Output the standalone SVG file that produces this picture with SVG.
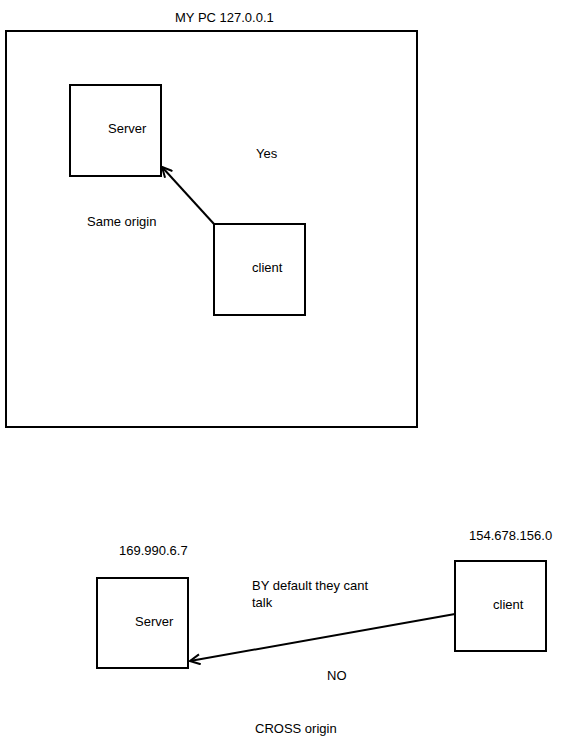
<svg xmlns="http://www.w3.org/2000/svg" width="588" height="746" viewBox="0 0 588 746">
  <style>
    .box { fill: none; stroke: #000; stroke-width: 2; }
    .lbl { font-family: "Liberation Sans", Arial, sans-serif; font-size: 13px; fill: #000; }
    .edge { fill: none; stroke: #000; stroke-width: 2; }
  </style>
  <defs>
    <marker id="open-arrow" viewBox="0 0 12 12" refX="11" refY="6" markerWidth="12" markerHeight="12" markerUnits="userSpaceOnUse" orient="auto">
      <path d="M1,1 L11,6 L1,11" fill="none" stroke="#000" stroke-width="2"/>
    </marker>
  </defs>
  <rect width="588" height="746" fill="#fff"/>

  <!-- Same-origin machine -->
  <g id="my-pc">
    <rect class="box" x="6" y="31" width="411" height="396"/>
    <text class="lbl" x="175" y="22">MY PC 127.0.0.1</text>
  </g>
  <g id="server-local">
    <rect class="box" x="70" y="85" width="91" height="91"/>
    <text class="lbl" x="108" y="133">Server</text>
  </g>
  <g id="client-local">
    <rect class="box" x="214" y="224" width="91" height="91"/>
    <text class="lbl" x="252" y="272">client</text>
  </g>
  <text class="lbl" x="256" y="158">Yes</text>
  <text class="lbl" x="87" y="226">Same origin</text>

  <!-- Cross-origin hosts -->
  <g id="server-remote">
    <rect class="box" x="97" y="578" width="91" height="90"/>
    <text class="lbl" x="135" y="626">Server</text>
    <text class="lbl" x="119" y="555">169.990.6.7</text>
  </g>
  <g id="client-remote">
    <rect class="box" x="455" y="561" width="91" height="90"/>
    <text class="lbl" x="493" y="609">client</text>
    <text class="lbl" x="469" y="540">154.678.156.0</text>
  </g>
  <text class="lbl" x="252" y="590">BY default they cant</text>
  <text class="lbl" x="252" y="607">talk</text>
  <text class="lbl" x="327" y="680">NO</text>
  <text class="lbl" x="255" y="733">CROSS origin</text>

  <g id="connectors">
    <line class="edge" x1="214" y1="224" x2="162" y2="167" marker-end="url(#open-arrow)"/>
    <line class="edge" x1="455" y1="614" x2="190" y2="661" marker-end="url(#open-arrow)"/>
  </g>
</svg>
